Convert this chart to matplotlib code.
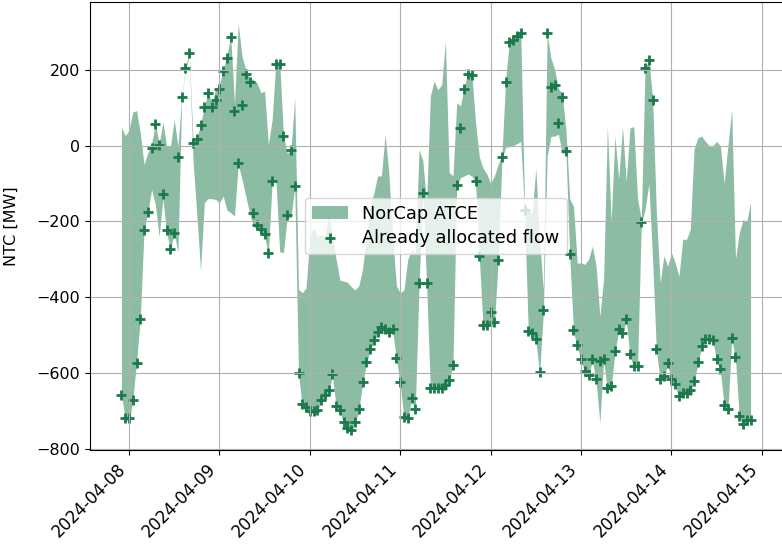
import matplotlib
matplotlib.use("Agg")
import matplotlib.pyplot as plt
import matplotlib.dates as mdates
import pandas as pd

# hourly timestamps, 2024-04-07 22:00 -> 2024-04-14 21:00
start = "2024-04-07 22:00"
n_hours = 168

# NorCap ATCE band (MW)
atce_high = [48, 26, 40, 88, 92, 33, -50, -19, 5, 56, 5, 61, -2, -2, 68, -2, 127, 207, 244, 11, 20, 55, 102, 140, 110, 150,
             160, 200, 235, 290, 110, 321, 235, 200, 178, 174, 165, 139, 143, 3, 68, 222, 222, 25, -20, -11, 125, -379, -388, -375,
             -240, -215, -240, -235, -240, -180, -240, -300, -355, -357, -360, -372, -380, -370, -325, -245, -160, -125, -80, -80, 29, -75, -245, -370,
             -388, -380, -300, -275, -285, -10, -40, -150, 130, 170, 147, 160, 274, -71, -80, 112, 105, 153, 192, 190, 60, -30, -60, -75,
             -100, -80, -50, -25, 175, 278, 285, 292, 300, -150, -170, -180, -60, -250, -380, 296, 230, 200, 150, 135, 40, -140, -160, -310,
             -309, -313, -300, -265, -317, -450, -350, 51, -200, 25, -89, 50, -94, 46, 50, -140, -195, 205, 225, 125, -177, -361, -291, -318,
             -282, -309, -345, -247, -247, -221, -10, 20, 25, 11, 0, 0, 11, -2, -100, 0, 95, -300, -230, -195, -200, -150]
atce_low = [-658, -717, -734, -670, -572, -456, -223, -175, -116, -155, -240, -140, -230, -274, -230, -282, 125, 200, 235, -40, -180, -330, -150, -140, -140, -142,
            -151, -133, -170, -177, -186, -50, -89, -133, -177, -212, -221, -230, -239, -285, -97, -90, -280, -282, -190, -190, -110, -600, -690, -700,
            -705, -705, -700, -675, -660, -648, -606, -690, -702, -733, -750, -755, -733, -698, -628, -575, -540, -518, -496, -483, -488, -495, -488, -563,
            -628, -720, -722, -668, -697, -366, -130, -365, -642, -642, -642, -642, -634, -620, -580, -106, -85, -80, -75, -80, -97, -295, -478, -478,
            -470, -470, -305, -35, -5, -3, 0, 5, 10, -173, -492, -498, -513, -600, -440, -28, 24, 25, 30, -20, -20, -290, -490, -530,
            -565, -598, -608, -565, -620, -730, -566, -644, -636, -545, -488, -497, -460, -553, -585, -585, -205, -170, -100, -300, -540, -618, -612, -577,
            -620, -632, -665, -655, -655, -648, -624, -575, -532, -514, -513, -516, -565, -593, -688, -697, -510, -560, -716, -738, -727, -727]

# already allocated flow (MW)
flow = [-658, -717, -717, -670, -572, -456, -223, -175, -7, 56, 1, -129, -223, -272, -230, -30, 127, 203, 244, 7, 16, 53, 102, 139, 102, 121,
        149, 196, 231, 286, 90, -47, 107, 189, 167, -177, -210, -221, -232, -282, -94, 215, 215, 25, -184, -11, -107, -598, -681, -690,
        -699, -699, -696, -670, -657, -643, -602, -685, -697, -728, -745, -750, -728, -693, -623, -570, -535, -513, -491, -478, -483, -490, -483, -559,
        -624, -716, -717, -664, -693, -363, -126, -361, -639, -639, -639, -639, -630, -617, -577, -103, 46, 150, 189, 186, -94, -292, -474, -474,
        -439, -466, -302, -31, 168, 272, 279, 288, 297, -170, -489, -495, -510, -596, -433, 296, 154, 160, 58, 128, -15, -287, -486, -526,
        -561, -594, -605, -561, -616, -567, -563, -640, -633, -541, -484, -493, -456, -550, -581, -581, -202, 204, 224, 119, -535, -614, -607, -572,
        -616, -629, -660, -651, -652, -644, -620, -570, -528, -510, -509, -512, -561, -589, -684, -693, -506, -556, -712, -734, -723, -723]

color = '#1b7a4b'

times = pd.date_range(start, periods=n_hours, freq='h')

fig = plt.figure(figsize=(7.82, 5.46), dpi=100)
ax = fig.add_axes([90 / 782, 1 - 450 / 546, 692 / 782, 448 / 546])

ax.fill_between(times, atce_low, atce_high, color=color, alpha=0.5, linewidth=0, label='NorCap ATCE')
ax.scatter(times, flow, marker='+', s=55, linewidths=2, color=color, label='Already allocated flow')

ax.set_ylim(-802, 378)
ax.set_ylabel('NTC [MW]', fontsize=11.5)
ax.yaxis.set_label_coords(-0.103, 0.5)
ax.grid(True)
# right edge of the frame is cut off in the reference
ax.spines['right'].set_visible(False)

ax.xaxis.set_major_locator(mdates.DayLocator())
ax.xaxis.set_major_formatter(mdates.DateFormatter('%Y-%m-%d'))
plt.setp(ax.get_xticklabels(), rotation=45, ha='right', fontsize=12)
ax.tick_params(axis='y', labelsize=11.5)

ax.legend(loc='center', fontsize=12.8, labelspacing=0.35)

fig.savefig('out.png', dpi=100)
